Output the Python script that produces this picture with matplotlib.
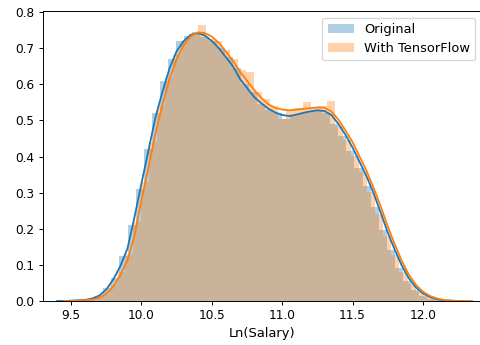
import numpy as np
import matplotlib
matplotlib.use("Agg")
import matplotlib.pyplot as plt

# histogram bins (density), 50 bins each
orig_lo, orig_hi = 9.44, 12.32
orig_hist = [0.000, 0.001, 0.002, 0.005, 0.012, 0.035, 0.065, 0.125, 0.21, 0.31,
             0.42, 0.52, 0.61, 0.67, 0.72, 0.735, 0.745, 0.73, 0.72, 0.70,
             0.675, 0.645, 0.60, 0.58, 0.545, 0.53, 0.52, 0.505, 0.515, 0.52,
             0.525, 0.53, 0.52, 0.49, 0.456, 0.414, 0.368, 0.318, 0.26, 0.196,
             0.14, 0.092, 0.054, 0.03, 0.015, 0.006, 0.003, 0.001, 0.0005, 0.0002]

tf_lo, tf_hi = 9.48, 12.35
tf_hist = [0.001, 0.002, 0.004, 0.009, 0.02, 0.045, 0.08, 0.13, 0.22, 0.33,
           0.44, 0.54, 0.62, 0.68, 0.72, 0.74, 0.765, 0.725, 0.72, 0.695,
           0.67, 0.64, 0.635, 0.58, 0.56, 0.54, 0.505, 0.53, 0.535, 0.55,
           0.535, 0.54, 0.555, 0.484, 0.447, 0.402, 0.357, 0.302, 0.24, 0.18,
           0.127, 0.08, 0.046, 0.025, 0.012, 0.006, 0.002, 0.001, 0.0005, 0.0002]

# KDE curves
kde_x = [9.40, 9.45, 9.50, 9.55, 9.60, 9.65, 9.70, 9.75, 9.80, 9.85,
         9.90, 9.95, 10.00, 10.05, 10.10, 10.15, 10.20, 10.25, 10.30, 10.35,
         10.40, 10.45, 10.50, 10.55, 10.60, 10.65, 10.70, 10.75, 10.80, 10.85,
         10.90, 10.95, 11.00, 11.05, 11.10, 11.15, 11.20, 11.25, 11.30, 11.35,
         11.40, 11.45, 11.50, 11.55, 11.60, 11.65, 11.70, 11.75, 11.80, 11.85,
         11.90, 11.95, 12.00, 12.05, 12.10, 12.15, 12.20, 12.25, 12.30, 12.35]
orig_kde = [0.000, 0.000, 0.001, 0.002, 0.003, 0.007, 0.015, 0.032, 0.060, 0.097,
            0.145, 0.232, 0.326, 0.418, 0.51, 0.58, 0.645, 0.692, 0.72, 0.737,
            0.742, 0.735, 0.72, 0.70, 0.675, 0.65, 0.615, 0.59, 0.565, 0.548,
            0.533, 0.522, 0.515, 0.512, 0.516, 0.521, 0.525, 0.528, 0.526, 0.515,
            0.49, 0.46, 0.425, 0.385, 0.345, 0.298, 0.245, 0.19, 0.142, 0.098,
            0.063, 0.038, 0.021, 0.011, 0.005, 0.002, 0.001, 0.000, 0.000, None]
tf_kde = [None, 0.000, 0.000, 0.001, 0.002, 0.004, 0.009, 0.020, 0.040, 0.072,
          0.112, 0.180, 0.28, 0.37, 0.465, 0.545, 0.615, 0.67, 0.708, 0.733,
          0.744, 0.742, 0.732, 0.715, 0.69, 0.665, 0.635, 0.61, 0.585, 0.563,
          0.545, 0.535, 0.53, 0.528, 0.53, 0.532, 0.534, 0.536, 0.535, 0.525,
          0.502, 0.472, 0.44, 0.40, 0.36, 0.313, 0.262, 0.207, 0.157, 0.111,
          0.073, 0.045, 0.026, 0.014, 0.007, 0.003, 0.001, 0.000, 0.000, 0.000]


def bars(ax, lo, hi, heights, color, label):
    edges = np.linspace(lo, hi, len(heights) + 1)
    centers = (edges[:-1] + edges[1:]) / 2
    ax.bar(centers, heights, width=edges[1] - edges[0], color=color,
           alpha=0.35, linewidth=0, label=label)


def line(ax, xs, ys, color):
    pts = [(x, y) for x, y in zip(xs, ys) if y is not None]
    ax.plot([p[0] for p in pts], [p[1] for p in pts], color=color, lw=1.5)


fig = plt.figure(figsize=(480 / 87, 345 / 87), dpi=87)
ax = fig.add_axes([43 / 480, 44 / 345, 439 / 480, 290 / 345])

bars(ax, orig_lo, orig_hi, orig_hist, "C0", "Original")
line(ax, kde_x, orig_kde, "C0")
bars(ax, tf_lo, tf_hi, tf_hist, "C1", "With TensorFlow")
line(ax, kde_x, tf_kde, "C1")

ax.set_xlim(9.30, 12.42)
ax.set_ylim(0, 0.803)
ax.set_xticks([9.5, 10.0, 10.5, 11.0, 11.5, 12.0])
ax.set_yticks([0.0, 0.1, 0.2, 0.3, 0.4, 0.5, 0.6, 0.7, 0.8])
ax.set_xlabel("Ln(Salary)", fontsize=10.8)
ax.legend(loc="upper right", fontsize=10.8)

fig.savefig("out.png", dpi=87)
